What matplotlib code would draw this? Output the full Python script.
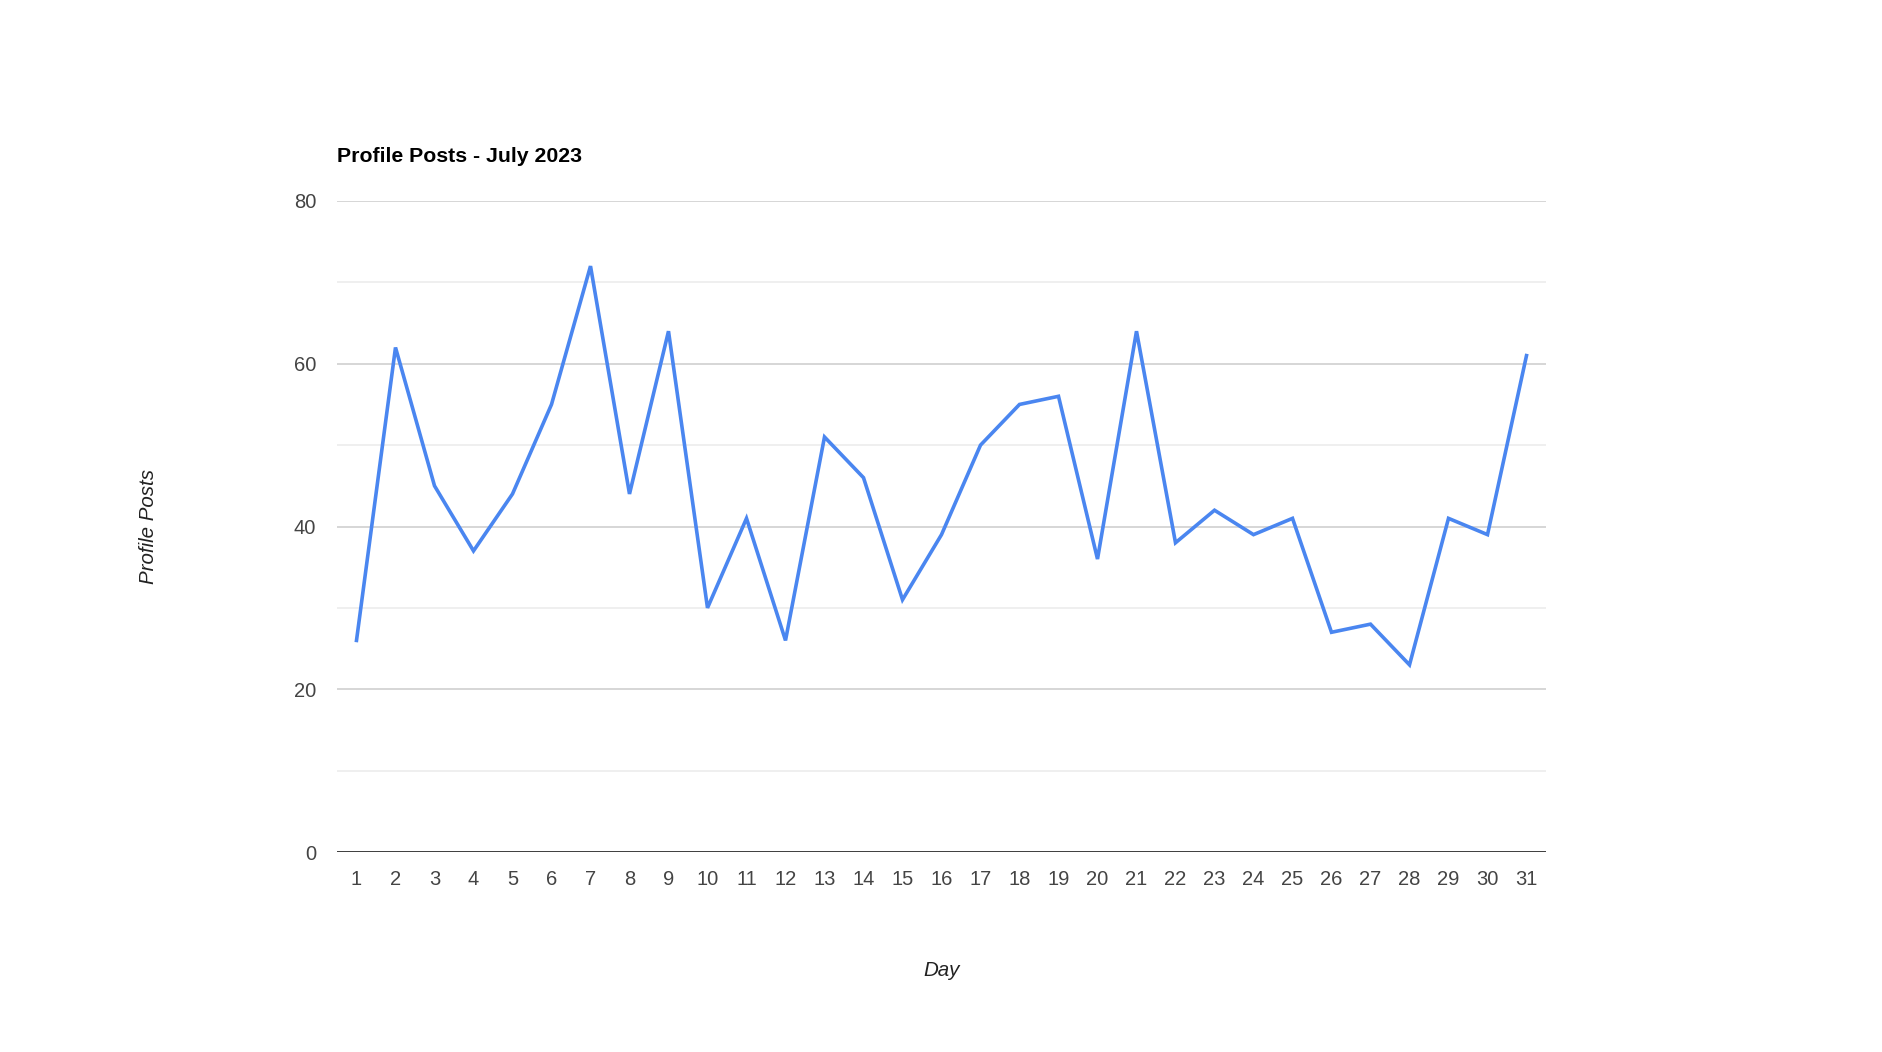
import matplotlib
matplotlib.use("Agg")
import matplotlib.pyplot as plt
from matplotlib.ticker import MultipleLocator

days = list(range(1, 32))
posts = [26, 62, 45, 37, 44, 55, 72, 44, 64, 30, 41, 26, 51, 46, 31, 39,
         50, 55, 56, 36, 64, 38, 42, 39, 41, 27, 28, 23, 41, 39, 61]
title = "Profile Posts - July 2023"
xlabel = "Day"
ylabel = "Profile Posts"

plt.rcParams['font.family'] = ['Liberation Sans', 'DejaVu Sans']

W, H = 1882, 1052
fig = plt.figure(figsize=(W / 100, H / 100), dpi=100)
left, right, top, bottom = 337, 1546, 201, 852
ax = fig.add_axes([left / W, 1 - bottom / H, (right - left) / W, (bottom - top) / H])

ax.plot(days, posts, color="#4a86f0", lw=2.6, solid_joinstyle="miter", zorder=3, clip_on=False)

ax.set_xlim(0.5, 31.5)
ax.set_ylim(0, 80)
ax.set_xticks(days)
ax.set_xticklabels([str(d) for d in days])
ax.yaxis.set_major_locator(MultipleLocator(20))
ax.yaxis.set_minor_locator(MultipleLocator(10))
ax.grid(which="major", axis="y", color="#cccccc", lw=1.1, zorder=1)
ax.grid(which="minor", axis="y", color="#ebebeb", lw=1.1, zorder=1)
ax.axhline(0, color="#333333", lw=1.3, zorder=2)

for s in ax.spines.values():
    s.set_visible(False)
ax.tick_params(axis="both", which="both", length=0, labelsize=14.5, colors="#444444")
ax.tick_params(axis="y", pad=15)
ax.tick_params(axis="x", pad=13)

fig.text(left / W, 1 - 156 / H, title, fontsize=15.3, fontweight="bold", color="#000000",
         ha="left", va="center")
fig.text(149 / W, 1 - 526 / H, ylabel, fontsize=14.8, style="italic", color="#222222",
         ha="center", va="center", rotation=90)
fig.text(942 / W, 1 - 970 / H, xlabel, fontsize=14.8, style="italic", color="#222222",
         ha="center", va="center")

fig.savefig("out.png", dpi=100, facecolor="white")
